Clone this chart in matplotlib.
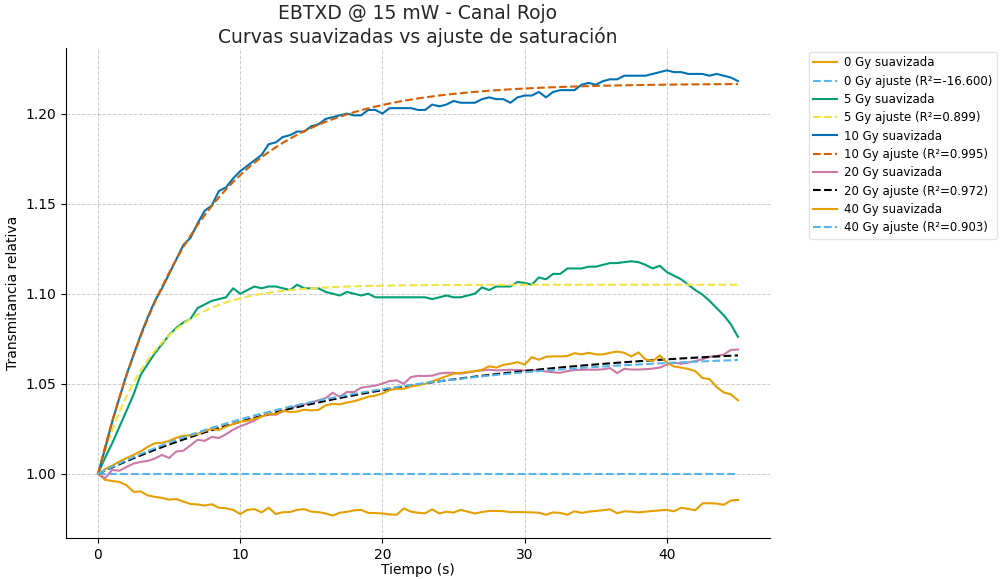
import numpy as np
import matplotlib
matplotlib.use("Agg")
import matplotlib.pyplot as plt

# Time base (s), one sample every 0.5 s
t = np.arange(0, 45.01, 0.5)

doses = ["0 Gy", "5 Gy", "10 Gy", "20 Gy", "40 Gy"]

# Smoothed relative transmittance per dose
smooth_0 = [1.000, 0.9967, 0.9960, 0.9955, 0.9937, 0.9900, 0.9902, 0.9880, 0.9872, 0.9866,
            0.9857, 0.9860, 0.9846, 0.9833, 0.9830, 0.9824, 0.9831, 0.9812, 0.9809, 0.9800,
            0.9777, 0.9800, 0.9804, 0.9786, 0.9812, 0.9777, 0.9787, 0.9788, 0.9800, 0.9804,
            0.9790, 0.9787, 0.9780, 0.9768, 0.9784, 0.9789, 0.9797, 0.9800, 0.9783, 0.9782,
            0.9780, 0.9775, 0.9773, 0.9808, 0.9790, 0.9784, 0.9781, 0.9803, 0.9780, 0.9790,
            0.9785, 0.9800, 0.9790, 0.9780, 0.9788, 0.9794, 0.9794, 0.9793, 0.9787, 0.9788,
            0.9787, 0.9786, 0.9784, 0.9773, 0.9786, 0.9783, 0.9773, 0.9792, 0.9783, 0.9790,
            0.9794, 0.9798, 0.9803, 0.9781, 0.9792, 0.9790, 0.9786, 0.9790, 0.9794, 0.9797,
            0.9800, 0.9792, 0.9812, 0.9805, 0.9798, 0.9836, 0.9837, 0.9835, 0.9828, 0.9852,
            0.9855]

smooth_5 = [1.000, 1.009, 1.017, 1.026, 1.035, 1.044, 1.055, 1.061, 1.067, 1.072,
            1.077, 1.081, 1.084, 1.086, 1.092, 1.094, 1.096, 1.097, 1.098, 1.103,
            1.100, 1.102, 1.104, 1.103, 1.104, 1.104, 1.103, 1.102, 1.105, 1.103,
            1.103, 1.103, 1.101, 1.100, 1.099, 1.101, 1.100, 1.099, 1.100, 1.098,
            1.098, 1.098, 1.098, 1.098, 1.098, 1.098, 1.098, 1.097, 1.098, 1.099,
            1.098, 1.098, 1.099, 1.100, 1.1035, 1.102, 1.104, 1.104, 1.104, 1.1065,
            1.106, 1.105, 1.109, 1.108, 1.111, 1.111, 1.114, 1.114, 1.114, 1.115,
            1.115, 1.116, 1.117, 1.117, 1.1175, 1.118, 1.1175, 1.116, 1.114, 1.1155,
            1.112, 1.110, 1.108, 1.105, 1.102, 1.0995, 1.096, 1.092, 1.088, 1.083,
            1.076]

smooth_10 = [1.000, 1.014, 1.029, 1.042, 1.055, 1.066, 1.077, 1.087, 1.096, 1.103,
             1.111, 1.119, 1.127, 1.131, 1.139, 1.146, 1.149, 1.157, 1.159, 1.164,
             1.168, 1.171, 1.174, 1.177, 1.183, 1.184, 1.187, 1.188, 1.190, 1.190,
             1.193, 1.194, 1.197, 1.198, 1.199, 1.200, 1.199, 1.199, 1.202, 1.202,
             1.200, 1.203, 1.203, 1.203, 1.203, 1.202, 1.202, 1.205, 1.204, 1.205,
             1.207, 1.206, 1.206, 1.206, 1.208, 1.209, 1.208, 1.208, 1.206, 1.209,
             1.210, 1.210, 1.212, 1.209, 1.212, 1.213, 1.213, 1.213, 1.216, 1.217,
             1.216, 1.218, 1.219, 1.219, 1.221, 1.221, 1.221, 1.221, 1.222, 1.223,
             1.224, 1.223, 1.223, 1.222, 1.222, 1.222, 1.221, 1.222, 1.221, 1.220,
             1.218]

smooth_20 = [1.000, 0.9976, 1.0022, 1.0017, 1.0038, 1.0057, 1.0066, 1.0072, 1.0085, 1.0105,
             1.0088, 1.0124, 1.0128, 1.0158, 1.0189, 1.0183, 1.0205, 1.0199, 1.0220, 1.0245,
             1.0264, 1.0279, 1.0296, 1.0320, 1.0328, 1.0328, 1.0346, 1.0366, 1.0378, 1.0385,
             1.0395, 1.0408, 1.0420, 1.0450, 1.0428, 1.0454, 1.0454, 1.0478, 1.0484, 1.0490,
             1.0501, 1.0515, 1.0519, 1.0500, 1.0537, 1.0544, 1.0543, 1.0545, 1.0557, 1.0561,
             1.0561, 1.0556, 1.0563, 1.0570, 1.0574, 1.0578, 1.0574, 1.0576, 1.0578, 1.0576,
             1.0574, 1.0574, 1.0574, 1.0568, 1.0564, 1.0561, 1.0570, 1.0576, 1.0578, 1.0578,
             1.0578, 1.0580, 1.0587, 1.0559, 1.0583, 1.0579, 1.0579, 1.0581, 1.0584, 1.0590,
             1.0606, 1.0617, 1.0611, 1.0618, 1.0626, 1.0636, 1.0650, 1.0654, 1.0662, 1.0688,
             1.0690]

smooth_40 = [1.000, 1.0025, 1.0046, 1.0068, 1.0088, 1.0105, 1.0125, 1.0150, 1.0170, 1.0172,
             1.0183, 1.0200, 1.0212, 1.0213, 1.0222, 1.0237, 1.0250, 1.0244, 1.0262, 1.0277,
             1.0289, 1.0295, 1.0305, 1.0318, 1.0333, 1.0333, 1.0350, 1.0343, 1.0346, 1.0356,
             1.0352, 1.0355, 1.0380, 1.0388, 1.0386, 1.0396, 1.0403, 1.0415, 1.0428, 1.0434,
             1.0446, 1.0465, 1.0472, 1.0472, 1.0485, 1.0492, 1.0500, 1.0514, 1.0527, 1.0542,
             1.0556, 1.0560, 1.0565, 1.0570, 1.0578, 1.0597, 1.0590, 1.0605, 1.0611, 1.0620,
             1.0606, 1.0648, 1.0633, 1.0650, 1.0652, 1.0652, 1.0654, 1.0670, 1.0663, 1.0672,
             1.0663, 1.0663, 1.0672, 1.0679, 1.0672, 1.0652, 1.0674, 1.0635, 1.0626, 1.0657,
             1.0617, 1.0596, 1.0590, 1.0582, 1.0570, 1.0532, 1.0526, 1.0481, 1.0452, 1.0441,
             1.0408]

# Saturation-fit parameters: y = 1 + A * (1 - exp(-t / tau))
fit_amplitude = [0.0, 0.105, 0.2167, 0.0735, 0.068]
fit_tau = [1.0, 3.8, 6.9, 20.0, 17.0]
fit_r2 = [-16.600, 0.899, 0.995, 0.972, 0.903]

smoothed = [smooth_0, smooth_5, smooth_10, smooth_20, smooth_40]

palette = ["#E69F00", "#56B4E9", "#009E73", "#F0E442",
           "#0072B2", "#D55E00", "#CC79A7", "#000000"]

fig = plt.figure(figsize=(10, 5.79), dpi=100)
ax = fig.add_axes([0.066, 0.071, 0.704, 0.846])

k = 0
for dose, ys, amp, tau, r2 in zip(doses, smoothed, fit_amplitude, fit_tau, fit_r2):
    ax.plot(t, ys, color=palette[k % 8], lw=1.5, label=f"{dose} suavizada")
    k += 1
    y_fit = 1.0 + amp * (1.0 - np.exp(-t / tau))
    ax.plot(t, y_fit, color=palette[k % 8], lw=1.5, ls="--",
            label=f"{dose} ajuste (R²={r2:.3f})")
    k += 1

ax.set_title("EBTXD @ 15 mW - Canal Rojo\nCurvas suavizadas vs ajuste de saturación",
             fontsize=13.5, color="#262626", pad=4)
ax.set_xlabel("Tiempo (s)", fontsize=10, labelpad=1)
ax.set_ylabel("Transmitancia relativa", fontsize=10)
ax.set_xticks([0, 10, 20, 30, 40])
ax.grid(True, ls="--", lw=0.7, color="#cccccc")
ax.set_axisbelow(True)
for side in ("top", "right"):
    ax.spines[side].set_visible(False)
ax.tick_params(labelsize=10)

ax.legend(loc="upper left", bbox_to_anchor=(1.05, 1.0), fontsize=8.5,
          labelspacing=0.45, handlelength=2.0, handletextpad=0.6,
          borderaxespad=0.3, frameon=True, edgecolor="#dddddd")

fig.savefig("out.png", dpi=100)
